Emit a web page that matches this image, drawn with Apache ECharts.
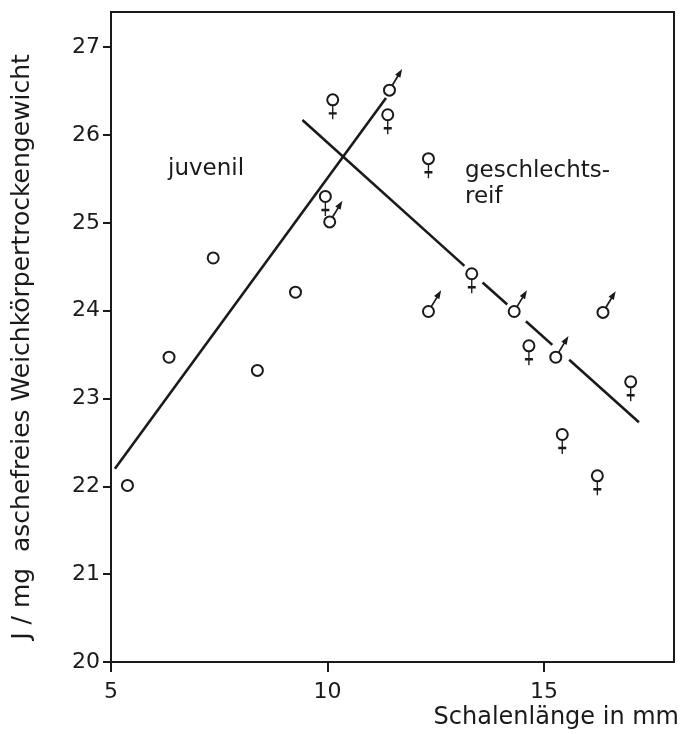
<!DOCTYPE html>
<html>
<head>
<meta charset="utf-8">
<script src="https://cdn.jsdelivr.net/npm/echarts@6/dist/echarts.min.js"></script>
<style>
  html, body { margin: 0; padding: 0; background: #fff; }
  #chart { width: 682px; height: 734px; }
</style>
</head>
<body>
<div id="chart"></div>
<script>
// juvenile animals (plain circles)
const juvX = [5.38, 6.34, 7.36, 8.38, 9.26];
const juvY = [22.01, 23.47, 24.60, 23.32, 24.21];
// mature females
const femX = [10.12, 11.39, 9.95, 12.33, 13.33, 14.65, 17.00, 15.42, 16.23];
const femY = [26.40, 26.23, 25.30, 25.73, 24.42, 23.60, 23.19, 22.59, 22.12];
// mature males
const maleX = [11.43, 10.05, 12.33, 14.31, 16.36, 15.27];
const maleY = [26.51, 25.01, 23.99, 23.99, 23.98, 23.47];

// regression lines (null = break in the line)
const juvLineX = [5.09, 11.35];
const juvLineY = [22.20, 26.42];
const matLineX = [9.42, 13.16, null, 13.58, 14.15, null, 14.58, 15.19, null, 15.58, 17.19];
const matLineY = [26.17, 24.51, null, 24.32, 24.07, null, 23.88, 23.61, null, 23.44, 22.73];

const xTicks = [5, 10, 15];
const yTicks = [20, 21, 22, 23, 24, 25, 26, 27];

const ink = '#1a1a1a';
const font = 'DejaVu Sans';

// cross under the female circle, arrow on the male circle
const crossPath = 'path://M4,0 L4,14 M0,8 L8,8';
const arrowPath = 'path://M0,14.24 L6.12,4.26 M8.74,0 L7.65,5.2 L4.59,3.32 Z';

function pairs(xs, ys) {
  return xs.map((x, i) => [x, ys[i]]);
}

// split a line with null breaks into segments
function segments(xs, ys) {
  let out = [];
  let cur = [];
  for (let i = 0; i < xs.length; i++) {
    if (xs[i] == null) {
      if (cur.length) out.push(cur);
      cur = [];
    } else {
      cur.push([xs[i], ys[i]]);
    }
  }
  if (cur.length) out.push(cur);
  return out;
}

const lineStyle = { color: ink, width: 2.6 };
const ringStyle = { color: ink, borderColor: ink, borderWidth: 1.9, opacity: 1 };
const signStyle = { color: ink, borderColor: ink, borderWidth: 1.8, opacity: 1 };

let series = [];
series.push({
  type: 'line', data: pairs(juvLineX, juvLineY), symbol: 'none',
  lineStyle: lineStyle, silent: true, z: 1
});
segments(matLineX, matLineY).forEach(function (seg) {
  series.push({
    type: 'line', data: seg, symbol: 'none',
    lineStyle: lineStyle, silent: true, z: 1
  });
});
// rings of all animals
[[juvX, juvY], [femX, femY], [maleX, maleY]].forEach(function (d) {
  series.push({
    type: 'scatter', data: pairs(d[0], d[1]), symbol: 'emptyCircle', symbolSize: 11,
    itemStyle: ringStyle, z: 3
  });
});
series.push({
  type: 'scatter', data: pairs(femX, femY), symbol: crossPath,
  symbolSize: [8, 14], symbolOffset: [0, 12.5], itemStyle: signStyle, z: 3
});
series.push({
  type: 'scatter', data: pairs(maleX, maleY), symbol: arrowPath,
  symbolSize: [8.74, 14.24], symbolOffset: [7.13, -11.88], itemStyle: signStyle, z: 3
});

var myChart = echarts.init(document.getElementById('chart'), null, { renderer: 'canvas' });

var option = {
  animation: false,
  backgroundColor: '#fff',
  grid: {
    left: 111, right: 7, top: 12, bottom: 72,
    show: true, borderColor: ink, borderWidth: 2, backgroundColor: 'transparent'
  },
  xAxis: {
    type: 'value', min: 5, max: 18,
    name: 'Schalenlänge in mm',
    nameLocation: 'end', nameGap: 5,
    nameTextStyle: {
      fontFamily: font, fontSize: 24, color: ink,
      align: 'right', verticalAlign: 'top', padding: [44, 0, 0, 0]
    },
    axisLine: { lineStyle: { color: ink, width: 2 } },
    axisTick: { length: 10, lineStyle: { color: ink, width: 2 }, customValues: xTicks },
    axisLabel: { fontFamily: font, fontSize: 22, color: ink, margin: 19, customValues: xTicks },
    splitLine: { show: false }
  },
  yAxis: {
    type: 'value', min: 20, max: 27.4,
    name: 'J / mg  aschefreies Weichkörpertrockengewicht',
    nameLocation: 'middle', nameGap: 76, nameRotate: 90,
    nameTextStyle: { fontFamily: font, fontSize: 25, color: ink, padding: [0, 20, 0, 0] },
    axisLine: { lineStyle: { color: ink, width: 2 } },
    axisTick: { length: 8, lineStyle: { color: ink, width: 2 }, customValues: yTicks },
    axisLabel: { fontFamily: font, fontSize: 22, color: ink, margin: 11, customValues: yTicks },
    splitLine: { show: false }
  },
  graphic: [
    { type: 'text', left: 168, top: 158, style: { text: 'juvenil', font: '23px ' + font, fill: ink } },
    { type: 'text', left: 465, top: 160, style: { text: 'geschlechts-', font: '23px ' + font, fill: ink } },
    { type: 'text', left: 465, top: 186, style: { text: 'reif', font: '23px ' + font, fill: ink } }
  ],
  series: series
};

myChart.setOption(option);
window.addEventListener('resize', myChart.resize);
</script>
</body>
</html>
